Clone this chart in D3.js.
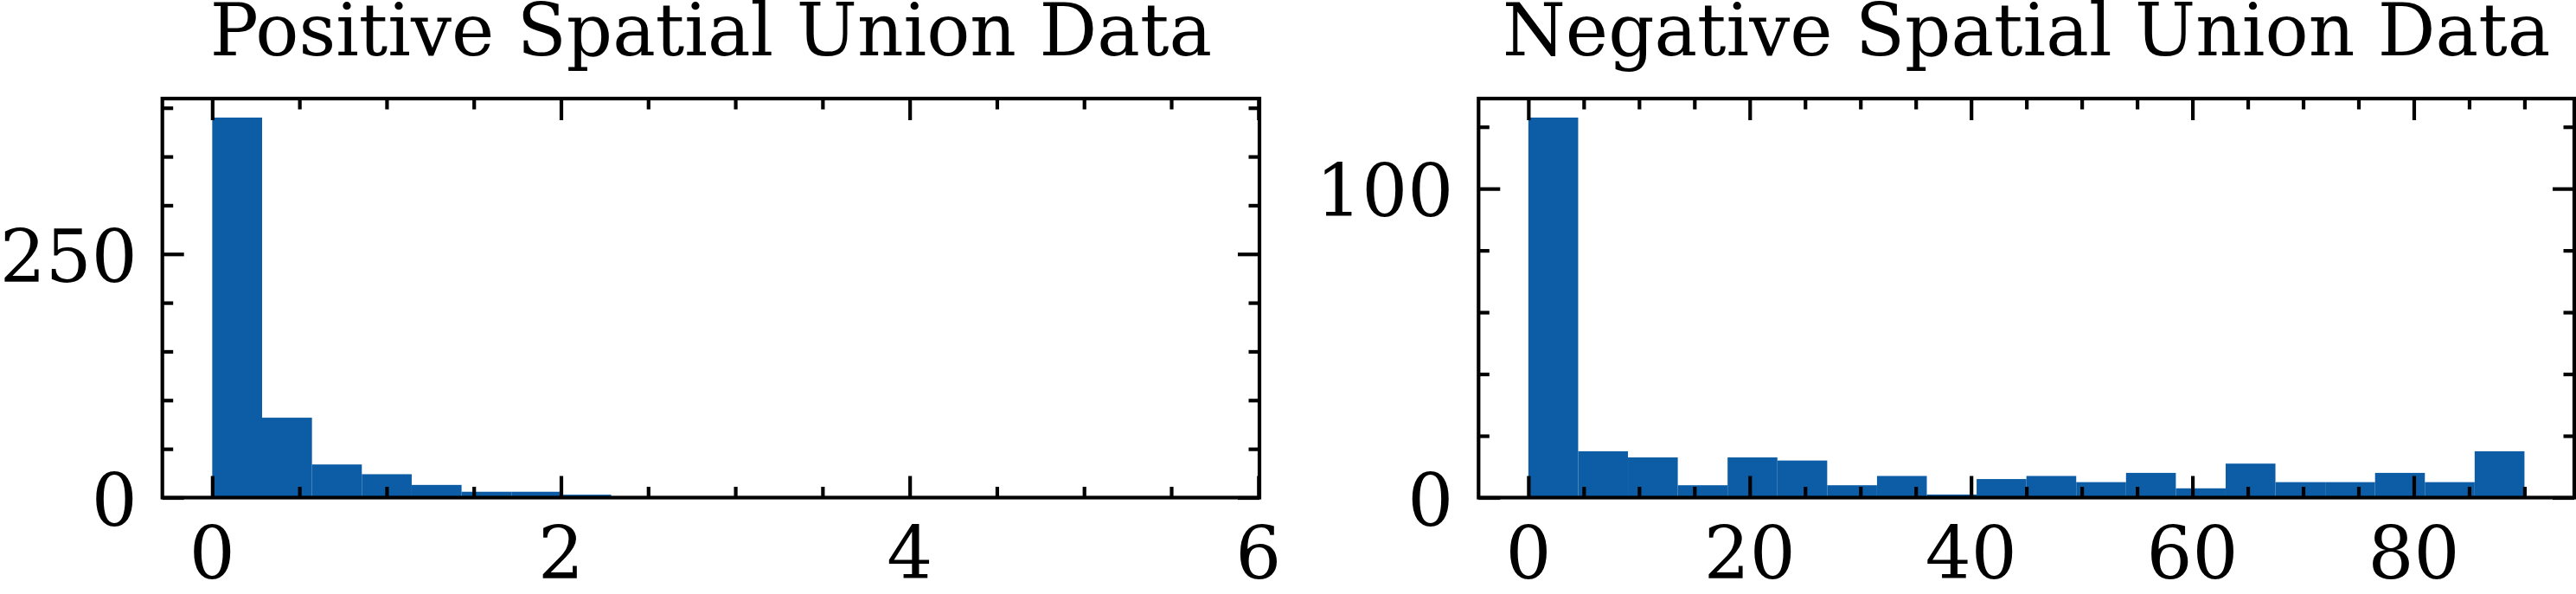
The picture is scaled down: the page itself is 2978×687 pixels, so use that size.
<!DOCTYPE html>
<html>
<head>
<meta charset="utf-8">
<script src="https://cdn.jsdelivr.net/npm/d3@7"></script>
<style>
  html, body { margin: 0; padding: 0; background: #fff; }
  svg { display: block; }
  text { font-family: "DejaVu Serif", serif; fill: #000; }
</style>
</head>
<body>
<script>
// ---------------- data ----------------
const posTitle = "Positive Spatial Union Data";
const negTitle = "Negative Spatial Union Data";

// histogram of positive data: 20 equal bins between these limits
const posRange = [0, 5.72];
const posCounts = [390, 82, 34, 24, 13, 6, 6, 3, 0, 0, 0, 0, 0, 0, 0, 0, 0, 0, 0, 1];

// histogram of negative data: 20 equal bins between these limits
const negRange = [0, 90];
const negCounts = [123, 15, 13, 4, 13, 12, 4, 7, 1, 6, 7, 5, 8, 3, 11, 5, 5, 8, 5, 15];

const posXTicks = [0, 2, 4, 6];
const posXMinor = [0.5, 1, 1.5, 2.5, 3, 3.5, 4.5, 5, 5.5];
const posYTicks = [0, 250];
const posYMinor = [50, 100, 150, 200, 300, 350, 400];

const negXTicks = [0, 20, 40, 60, 80];
const negXMinor = [5, 10, 15, 25, 30, 35, 45, 50, 55, 65, 70, 75, 85, 90];
const negYTicks = [0, 100];
const negYMinor = [20, 40, 60, 80, 120];

// ---------------- layout ----------------
const W = 2978, H = 687;
const FONT = 83.3;
const LW = 4.2;
const MAJ = 25, MIN = 12.5;
const plotTop = 114, plotBottom = 575.5;
const panels = [
  { title: posTitle, range: posRange, counts: posCounts, xt: posXTicks, xm: posXMinor, yt: posYTicks, ym: posYMinor, left: 187.7, right: 1456 },
  { title: negTitle, range: negRange, counts: negCounts, xt: negXTicks, xm: negXMinor, yt: negYTicks, ym: negYMinor, left: 1709.3, right: 2976 }
];

const svg = d3.select("body").append("svg").attr("width", W).attr("height", H);

panels.forEach(p => {
  const n = p.counts.length;
  const bw = (p.range[1] - p.range[0]) / n;
  const bins = p.counts.map((c, i) => ({ x0: p.range[0] + i * bw, x1: p.range[0] + (i + 1) * bw, c }));
  const span = p.range[1] - p.range[0];
  const x = d3.scaleLinear().domain([p.range[0] - 0.05 * span, p.range[1] + 0.05 * span]).range([p.left, p.right]);
  const ymax = d3.max(p.counts) * 1.05;
  const y = d3.scaleLinear().domain([0, ymax]).range([plotBottom, plotTop]);

  const g = svg.append("g");

  // bars
  g.selectAll("rect.bar").data(bins).enter().append("rect")
    .attr("class", "bar")
    .attr("x", d => x(d.x0))
    .attr("width", d => x(d.x1) - x(d.x0))
    .attr("y", d => y(d.c))
    .attr("height", d => y(0) - y(d.c))
    .attr("fill", "#0C5DA5");

  // ticks (inward, all four sides)
  const tickStyle = sel => {
    sel.select(".domain").remove();
    sel.selectAll(".tick line").attr("stroke", "#000").attr("stroke-width", LW);
    sel.selectAll(".tick text").remove();
  };
  g.append("g").attr("transform", `translate(0,${plotBottom})`)
    .call(d3.axisBottom(x).tickValues(p.xt).tickSize(-MAJ)).call(tickStyle);
  g.append("g").attr("transform", `translate(0,${plotBottom})`)
    .call(d3.axisBottom(x).tickValues(p.xm).tickSize(-MIN)).call(tickStyle);
  g.append("g").attr("transform", `translate(0,${plotTop})`)
    .call(d3.axisTop(x).tickValues(p.xt).tickSize(-MAJ)).call(tickStyle);
  g.append("g").attr("transform", `translate(0,${plotTop})`)
    .call(d3.axisTop(x).tickValues(p.xm).tickSize(-MIN)).call(tickStyle);
  g.append("g").attr("transform", `translate(${p.left},0)`)
    .call(d3.axisLeft(y).tickValues(p.yt).tickSize(-MAJ)).call(tickStyle);
  g.append("g").attr("transform", `translate(${p.left},0)`)
    .call(d3.axisLeft(y).tickValues(p.ym).tickSize(-MIN)).call(tickStyle);
  g.append("g").attr("transform", `translate(${p.right},0)`)
    .call(d3.axisRight(y).tickValues(p.yt).tickSize(-MAJ)).call(tickStyle);
  g.append("g").attr("transform", `translate(${p.right},0)`)
    .call(d3.axisRight(y).tickValues(p.ym).tickSize(-MIN)).call(tickStyle);

  // spines
  g.append("rect")
    .attr("x", p.left).attr("y", plotTop)
    .attr("width", p.right - p.left).attr("height", plotBottom - plotTop)
    .attr("fill", "none").attr("stroke", "#000").attr("stroke-width", LW);

  // tick labels
  g.selectAll("text.xl").data(p.xt).enter().append("text")
    .attr("class", "xl")
    .attr("x", d => x(d)).attr("y", plotBottom + 93)
    .attr("text-anchor", "middle").attr("font-size", FONT)
    .text(d => d3.format("d")(d));
  g.selectAll("text.yl").data(p.yt).enter().append("text")
    .attr("class", "yl")
    .attr("x", p.left - 29).attr("y", d => y(d) + 32)
    .attr("text-anchor", "end").attr("font-size", FONT)
    .text(d => d3.format("d")(d));

  // title
  g.append("text")
    .attr("x", (p.left + p.right) / 2).attr("y", plotTop - 50)
    .attr("text-anchor", "middle").attr("font-size", FONT)
    .text(p.title);
});
</script>
</body>
</html>
